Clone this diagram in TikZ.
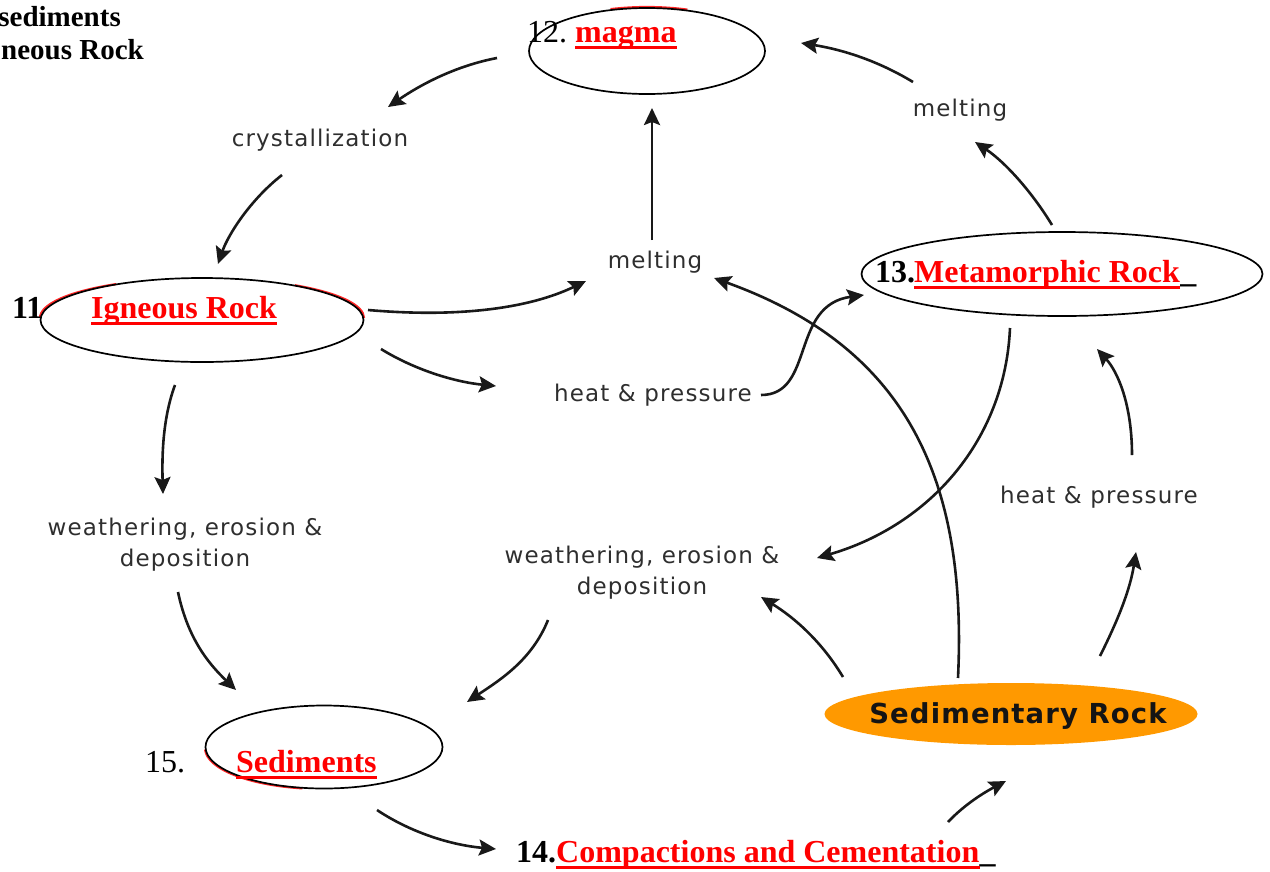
\documentclass[tikz,border=0pt]{standalone}
\usepackage{fontspec}
\setmainfont{Liberation Serif}
\newfontfamily\lblfont{DejaVu Sans}[LetterSpace=5]
\newfontfamily\sedfont{DejaVu Sans}[LetterSpace=4]
\usetikzlibrary{shapes.geometric,arrows.meta}
\begin{document}
\begin{tikzpicture}[x=1pt,y=-1pt,
  lbl/.style={font=\lblfont\fontsize{23}{31}\selectfont, text=black!82, align=center, inner sep=0},
  serif/.style={font=\fontsize{32}{36}\selectfont, inner sep=0, anchor=base west},
  serifb/.style={serif, font=\bfseries\fontsize{32}{36}\selectfont},
  redlabel/.style={serifb, text=red},
  ell/.style={draw=black, line width=1.7pt, ellipse, inner sep=0},
  redarc/.style={red!85, line width=2.2pt},
  arr/.style={line width=2.6pt, draw=black!90, -{Stealth[length=17pt,width=16pt,inset=3pt]}},
  ul/.style={red, line width=3.4pt},
]
\useasboundingbox (0,0) rectangle (1270,871);

% ---- top-left cut-off text
\node[serifb, anchor=base east, font=\bfseries\fontsize{29}{32}\selectfont] (tl1) at (121,26) {sediments};
\node[serifb, anchor=base east, font=\bfseries\fontsize{29}{32}\selectfont] (tl2) at (144,59) {neous Rock};

% ---- red shadow arcs
\draw[redarc] ([shift={(647,50)}]252:118 and 43) arc[start angle=252, end angle=290, x radius=118, y radius=43];
\draw[redarc] ([shift={(202,318)}]180:162 and 40) arc[start angle=180, end angle=238, x radius=162, y radius=40];
\draw[redarc] ([shift={(202,318)}]305:162 and 40) arc[start angle=305, end angle=360, x radius=162, y radius=40];
\draw[redarc] ([shift={(323,748)}]100:118 and 41) arc[start angle=100, end angle=178, x radius=118, y radius=41];

% ---- ellipses
\node[ell, minimum width=236pt, minimum height=86pt] (magmaE) at (647,51) {};
\node[ell, minimum width=323pt, minimum height=84pt] (ignE) at (202,320) {};
\node[ell, minimum width=401pt, minimum height=84pt] (metE) at (1062,274) {};
\node[ell, minimum width=237pt, minimum height=83pt] (sedE) at (324,747) {};
\node[ellipse, fill={rgb,255:red,255;green,153;blue,0}, minimum width=373pt, minimum height=62pt, inner sep=0] (sedrock) at (1011,714) {};
\node[font=\sedfont\bfseries\fontsize{27.5}{30}\selectfont, text=black!92, inner sep=0] (sedtxt) at (1018,716) {Sedimentary Rock};

% ---- answer labels
\node[serif] (n12) at (527,42) {12.};
\node[redlabel] (magma) at (575,42) {magma};
\node[serifb] (n11) at (12,318) {11};
\node[redlabel] (igneous) at (91,318) {Igneous Rock};
\node[serifb] (n13) at (875,282) {13.};
\node[redlabel] (meta) at (914,282) {Metamorphic Rock};
\node[serifb] (us13) at (meta.base east) {\_};
\node[serif] (n15) at (145,772) {15.};
\node[redlabel] (sedim) at (236,772) {Sediments};
\node[serifb] (n14) at (516,862) {14.};
\node[redlabel] (comp) at (556,862) {Compactions and Cementation};
\node[serifb] (us14) at (comp.base east) {\_};

\foreach \n in {magma,igneous,meta,sedim,comp}
  \draw[ul] ([yshift=-5.5pt]\n.base west) -- ([yshift=-5.5pt]\n.base east);

% ---- process labels
\node[lbl] (cryst) at (320,140) {crystallization};
\node[lbl] (meltC) at (655,262) {melting};
\node[lbl] (meltR) at (960,110) {melting};
\node[lbl] (hpC) at (653,395) {heat \& pressure};
\node[lbl] (hpR) at (1099,497) {heat \& pressure};
\node[lbl] (weL) at (185,545) {weathering, erosion \&\\deposition};
\node[lbl] (weC) at (642,573) {weathering, erosion \&\\deposition};

% ---- connector end points
\coordinate (a1s) at (497,58);   \coordinate (a1e) at (388,107);
\coordinate (a2s) at (282,175);  \coordinate (a2e) at (218,264);
\coordinate (a3s) at (368,310);  \coordinate (a3e) at (586,281);
\coordinate (a4s) at (381,349);  \coordinate (a4e) at (496,386);
\coordinate (a5s) at (652,240);  \coordinate (a5e) at (652,108);
\coordinate (a6s) at (761,395);  \coordinate (a6e) at (864,295);
\coordinate (a7s) at (958,678);  \coordinate (a7e) at (714,278);
\coordinate (a8s) at (1010,328); \coordinate (a8e) at (817,558);
\coordinate (a9s) at (1052,225); \coordinate (a9e) at (975,142);
\coordinate (a10s) at (913,82);  \coordinate (a10e) at (801,43);
\coordinate (a11s) at (1132,455);\coordinate (a11e) at (1097,349);
\coordinate (a12s) at (1100,656);\coordinate (a12e) at (1136,552);
\coordinate (a13s) at (843,677); \coordinate (a13e) at (761,597);
\coordinate (a14s) at (548,620); \coordinate (a14e) at (467,702);
\coordinate (a15s) at (175,385); \coordinate (a15e) at (163,494);
\coordinate (a16s) at (178,592); \coordinate (a16e) at (236,690);
\coordinate (a17s) at (377,810); \coordinate (a17e) at (496,849);
\coordinate (a18s) at (948,822); \coordinate (a18e) at (1006,781);

% ---- connectors
\draw[arr] (a1s) .. controls (455,66) and (420,85) .. (a1e);
\draw[arr] (a2s) .. controls (250,200) and (228,235) .. (a2e);
\draw[arr] (a3s) .. controls (460,318) and (530,308) .. (a3e);
\draw[arr] (a4s) .. controls (415,370) and (455,382) .. (a4e);
\draw[arr] (a5s) -- (a5e);
\draw[arr] (a6s) .. controls (815,395) and (790,305) .. (a6e);
\draw[arr] (a7s) .. controls (968,470) and (900,345) .. (a7e);
\draw[arr] (a8s) .. controls (1005,440) and (930,525) .. (a8e);
\draw[arr] (a9s) .. controls (1032,192) and (1005,162) .. (a9e);
\draw[arr] (a10s) .. controls (880,62) and (845,50) .. (a10e);
\draw[arr] (a11s) .. controls (1132,405) and (1118,372) .. (a11e);
\draw[arr] (a12s) .. controls (1118,620) and (1130,590) .. (a12e);
\draw[arr] (a13s) .. controls (822,642) and (795,618) .. (a13e);
\draw[arr] (a14s) .. controls (532,660) and (500,680) .. (a14e);
\draw[arr] (a15s) .. controls (162,420) and (162,460) .. (a15e);
\draw[arr] (a16s) .. controls (188,640) and (210,665) .. (a16e);
\draw[arr] (a17s) .. controls (410,832) and (450,845) .. (a17e);
\draw[arr] (a18s) .. controls (965,804) and (985,792) .. (a18e);
\end{tikzpicture}
\end{document}
